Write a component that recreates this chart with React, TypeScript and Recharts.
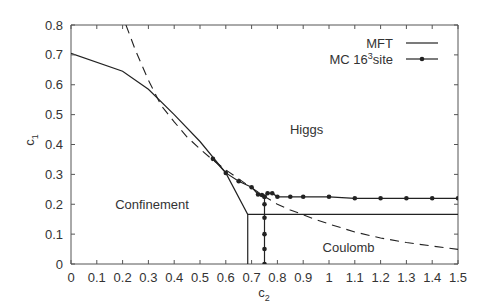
import React from 'react'
import { Legend, Line, LineChart, ReferenceArea, ReferenceDot, XAxis, YAxis } from 'recharts'

// mean field theory boundary (solid)
const mftC2 = [0, 0.2, 0.3, 0.4, 0.5, 0.6, 0.685, 0.685]
const mftC1 = [0.705, 0.645, 0.585, 0.5, 0.41, 0.305, 0.166, 0]
const mftFlatC2 = [0.685, 1.5]
const mftFlatC1 = [0.166, 0.166]

// Monte Carlo 16^3 points
const mcC2 = [0.55, 0.6, 0.65, 0.7, 0.725, 0.74, 0.75, 0.762, 0.78, 0.8, 0.85, 0.9, 1.0, 1.1, 1.2, 1.3, 1.4, 1.5]
const mcC1 = [0.352, 0.305, 0.277, 0.257, 0.233, 0.231, 0.225, 0.237, 0.237, 0.225, 0.225, 0.225, 0.225, 0.22, 0.22, 0.22, 0.22, 0.22]
const mcVertC2 = [0.75, 0.75, 0.75, 0.75, 0.75, 0.75]
const mcVertC1 = [0.225, 0.2, 0.155, 0.1, 0.05, 0]

// dashed curve
const dashC2 = [0.213, 0.25, 0.3, 0.35, 0.4, 0.45, 0.5, 0.55, 0.6, 0.65, 0.7, 0.75, 0.8, 0.85, 0.9, 0.95, 1.0, 1.1, 1.2, 1.3, 1.4, 1.5]
const dashC1 = [0.8, 0.715, 0.615, 0.53, 0.476, 0.425, 0.385, 0.348, 0.315, 0.285, 0.255, 0.226, 0.2, 0.181, 0.165, 0.148, 0.134, 0.107, 0.087, 0.072, 0.06, 0.049]

const xTicks = [0, 0.1, 0.2, 0.3, 0.4, 0.5, 0.6, 0.7, 0.8, 0.9, 1, 1.1, 1.2, 1.3, 1.4, 1.5]
const yTicks = [0, 0.1, 0.2, 0.3, 0.4, 0.5, 0.6, 0.7, 0.8]

const regionNames = ['Higgs', 'Confinement', 'Coulomb']
const regionC2 = [0.913, 0.314, 1.076]
const regionC1 = [0.449, 0.2, 0.057]

const zip = (xs: number[], ys: number[]) => xs.map((x, i) => ({ c2: x, c1: ys[i] }))

const W = 491
const H = 306
const PLOT = { left: 71, top: 25, right: 458, bottom: 264 }
const TEXT = '#333'
const AXIS = '#555'
const LINE = '#222'

function XTick({ x, payload }: any) {
  return (
    <g>
      <line x1={x} x2={x} y1={PLOT.bottom} y2={PLOT.bottom - 4} stroke={AXIS} />
      <line x1={x} x2={x} y1={PLOT.top} y2={PLOT.top + 4} stroke={AXIS} />
      <text x={x} y={PLOT.bottom + 18} textAnchor="middle" fill={TEXT} fontSize={13}>
        {payload.value}
      </text>
    </g>
  )
}

function YTick({ y, payload }: any) {
  return (
    <g>
      <line x1={PLOT.left} x2={PLOT.left + 4} y1={y} y2={y} stroke={AXIS} />
      <line x1={PLOT.right} x2={PLOT.right - 4} y1={y} y2={y} stroke={AXIS} />
      <text x={PLOT.left - 8} y={y + 4.5} textAnchor="end" fill={TEXT} fontSize={13}>
        {payload.value}
      </text>
    </g>
  )
}

function XLabel() {
  return (
    <text x={264} y={297} textAnchor="middle" fill={TEXT} fontSize={13}>
      c<tspan dy={4} fontSize={9}>2</tspan>
    </text>
  )
}

function YLabel() {
  return (
    <text x={34} y={140} textAnchor="middle" fill={TEXT} fontSize={13} transform="rotate(-90 34 140)">
      c<tspan dy={4} fontSize={9}>1</tspan>
    </text>
  )
}

function LegendBox() {
  return (
    <svg width={145} height={34} style={{ display: 'block' }}>
      <text x={93} y={13.5} textAnchor="end" fill={TEXT} fontSize={13}>MFT</text>
      <line x1={106} x2={138} y1={9} y2={9} stroke={LINE} strokeWidth={1.2} />
      <text x={93} y={29.5} textAnchor="end" fill={TEXT} fontSize={13}>
        MC 16<tspan dy={-5} fontSize={9}>3</tspan>
        <tspan dy={5}>site</tspan>
      </text>
      <line x1={106} x2={138} y1={25} y2={25} stroke={LINE} strokeWidth={1.2} />
      <circle cx={122} cy={25} r={2.3} fill={LINE} />
    </svg>
  )
}

export default function App() {
  return (
    <div
      style={{
        position: 'absolute',
        left: 0,
        top: 0,
        width: W,
        height: H,
        background: '#fff',
        fontFamily: '"Liberation Sans", Arial, sans-serif',
      }}
    >
      <LineChart width={W} height={H} margin={{ top: PLOT.top, right: W - PLOT.right, left: 0, bottom: 0 }}>
        <XAxis
          type="number"
          dataKey="c2"
          domain={[0, 1.5]}
          ticks={xTicks}
          allowDataOverflow
          height={H - PLOT.bottom}
          tickSize={0}
          tickMargin={0}
          tickLine={false}
          axisLine={false}
          tick={<XTick />}
          label={<XLabel />}
          interval={0}
        />
        <YAxis
          type="number"
          dataKey="c1"
          domain={[0, 0.8]}
          ticks={yTicks}
          allowDataOverflow
          width={PLOT.left}
          tickSize={0}
          tickMargin={0}
          tickLine={false}
          axisLine={false}
          tick={<YTick />}
          label={<YLabel />}
          interval={0}
        />
        <ReferenceArea x1={0} x2={1.5} y1={0} y2={0.8} fill="none" stroke={AXIS} strokeWidth={1} ifOverflow="visible" />
        <Line
          data={zip(dashC2, dashC1)}
          dataKey="c1"
          type="linear"
          stroke={LINE}
          strokeWidth={1.1}
          strokeDasharray="9 6"
          dot={false}
          isAnimationActive={false}
          legendType="none"
        />
        <Line data={zip(mftC2, mftC1)} dataKey="c1" type="linear" stroke={LINE} strokeWidth={1.2} dot={false} isAnimationActive={false} />
        <Line data={zip(mftFlatC2, mftFlatC1)} dataKey="c1" type="linear" stroke={LINE} strokeWidth={1.2} dot={false} isAnimationActive={false} />
        <Line
          data={zip(mcC2, mcC1)}
          dataKey="c1"
          type="linear"
          stroke={LINE}
          strokeWidth={1.2}
          dot={{ r: 2.3, fill: LINE, stroke: 'none' }}
          isAnimationActive={false}
        />
        <Line
          data={zip(mcVertC2, mcVertC1)}
          dataKey="c1"
          type="linear"
          stroke={LINE}
          strokeWidth={1.2}
          dot={{ r: 2.3, fill: LINE, stroke: 'none' }}
          isAnimationActive={false}
        />
        {regionNames.map((name, i) => (
          <ReferenceDot
            key={name}
            x={regionC2[i]}
            y={regionC1[i]}
            r={0}
            fill="none"
            stroke="none"
            label={{ value: name, position: 'center', fill: TEXT, fontSize: 13 }}
          />
        ))}
        <Legend
          layout="horizontal"
          verticalAlign="middle"
          align="center"
          content={<LegendBox />}
          wrapperStyle={{ position: 'absolute', left: 300, top: 34, width: 145, height: 34 }}
        />
      </LineChart>
    </div>
  )
}
